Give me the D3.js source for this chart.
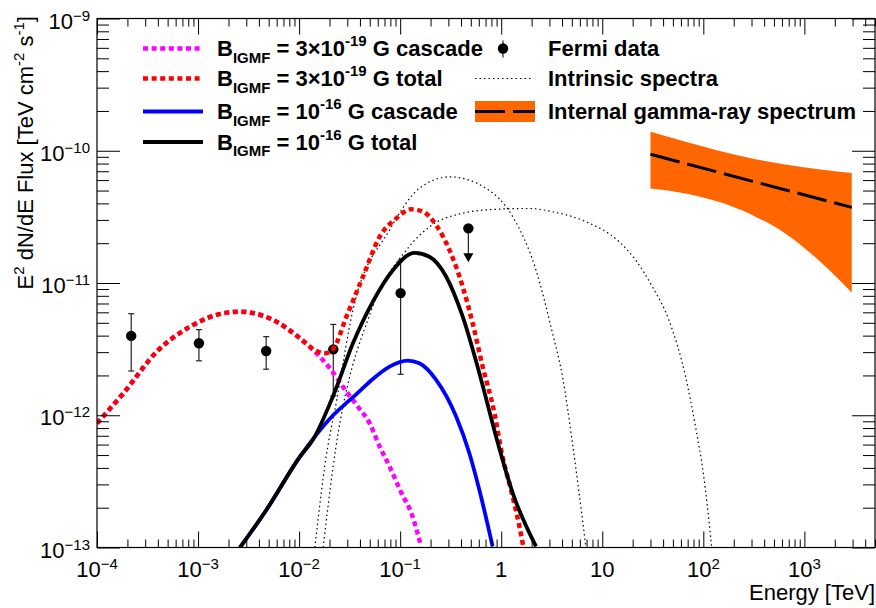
<!DOCTYPE html>
<html>
<head>
<meta charset="utf-8">
<script src="https://cdn.jsdelivr.net/npm/d3@7"></script>
<style>
  body { margin: 0; background: #fff; }
  svg { display: block; font-family: "Liberation Sans", Arial, Helvetica, sans-serif; }
  text { white-space: pre; }
</style>
</head>
<body>
<svg id="chart" width="876" height="608"></svg>
<script>
'use strict'

// E [TeV], E^2 dN/dE [TeV cm^-2 s^-1]
const cascadeWeak = [
  [1e-4, 8.7e-13], [1.83e-4, 1.47e-12], [3.91e-4, 3.03e-12], [8.34e-4, 4.68e-12],
  [1.78e-3, 5.90e-12], [2.6e-3, 6.07e-12], [5.54e-3, 5.25e-12], [0.0102, 3.82e-12],
  [0.0143, 3.03e-12], [0.0201, 2.27e-12], [0.0294, 1.51e-12], [0.0382, 1.16e-12],
  [0.0499, 8.7e-13], [0.0627, 5.8e-13], [0.0785, 4.1e-13], [0.103, 2.58e-13],
  [0.129, 1.82e-13], [0.161, 1.02e-13]
]
const totalWeak = [
  [1e-4, 8.7e-13], [1.83e-4, 1.47e-12], [3.91e-4, 3.03e-12], [8.34e-4, 4.68e-12],
  [1.78e-3, 5.90e-12], [2.6e-3, 6.07e-12], [5.54e-3, 5.25e-12], [0.0102, 3.82e-12],
  [0.0143, 3.1e-12], [0.0179, 2.94e-12], [0.0217, 3.17e-12], [0.0294, 5.56e-12],
  [0.0429, 1.12e-11], [0.0627, 2.24e-11], [0.0915, 3.08e-11], [0.129, 3.61e-11],
  [0.168, 3.46e-11], [0.227, 2.74e-11], [0.308, 1.77e-11], [0.416, 9.37e-12],
  [0.522, 4.95e-12], [0.655, 2.33e-12], [0.857, 1.04e-12], [1.03, 4.87e-13],
  [1.25, 2.73e-13], [1.63, 1.08e-13], [1.7, 0.9e-13]
]
const cascadeStrong = [
  [2.6e-3, 1e-13], [4.76e-3, 1.93e-13], [0.0102, 4.86e-13], [0.0137, 6.6e-13],
  [0.0217, 1.0e-12], [0.0316, 1.3e-12], [0.0397, 1.52e-12], [0.0537, 1.88e-12],
  [0.0785, 2.33e-12], [0.119, 2.59e-12], [0.155, 2.47e-12], [0.227, 1.85e-12],
  [0.358, 9.77e-13], [0.484, 5.16e-13], [0.608, 2.72e-13], [0.822, 1.02e-13]
]
const totalStrong = [
  [2.6e-3, 1e-13], [4.76e-3, 1.93e-13], [0.0102, 4.86e-13], [0.0137, 6.52e-13],
  [0.0217, 1.40e-12], [0.0341, 3.50e-12], [0.0537, 7.23e-12], [0.0847, 1.25e-11],
  [0.139, 1.69e-11], [0.195, 1.58e-11], [0.285, 1.12e-11], [0.416, 5.56e-12],
  [0.608, 2.08e-12], [0.889, 6.9e-13], [1.30, 2.58e-13], [2.21, 1.02e-13]
]
const intrinsicNarrow = [
  [0.0143, 1e-13], [0.0154, 1.62e-13], [0.0179, 4.09e-13], [0.0236, 1.31e-12],
  [0.0341, 6.25e-12], [0.0785, 2.51e-11], [0.155, 5.20e-11], [0.308, 6.35e-11],
  [0.708, 5.20e-11], [1.30, 3.17e-11], [2.21, 1.25e-11], [3.22, 4.17e-12],
  [4.04, 1.96e-12], [5.07, 6.15e-13], [5.90, 2.58e-13], [6.87, 1.02e-13]
]
const intrinsicBroad = [
  [0.0173, 1e-13], [0.0217, 4.09e-13], [0.0519, 6.25e-12], [0.115, 1.77e-11],
  [0.195, 2.66e-11], [0.416, 3.37e-11], [0.889, 3.61e-11], [1.89, 3.66e-11],
  [3.22, 3.46e-11], [6.87, 2.91e-11], [14.7, 2.05e-11], [21.4, 1.49e-11],
  [31.3, 9.37e-12], [45.6, 5.25e-12], [66.7, 1.96e-12], [83.7, 8.2e-13],
  [101, 3.44e-13], [118, 1.21e-13], [121, 1e-13]
]

const fermiE = [2.18e-4, 1.02e-3, 4.72e-3, 0.0218, 0.101]
const fermiF = [3.98e-12, 3.50e-12, 3.06e-12, 3.15e-12, 8.39e-12]
const fermiHi = [5.86e-12, 4.44e-12, 3.93e-12, 4.86e-12, 1.49e-11]
const fermiLo = [2.16e-12, 2.58e-12, 2.23e-12, 1.40e-12, 2.04e-12]
const limitE = [0.473]
const limitF = [2.59e-11]

const bandE = [30, 66.7, 142, 303, 647, 1380, 2944]
const bandHi = [1.39e-10, 1.17e-10, 1.0e-10, 8.75e-11, 7.88e-11, 7.26e-11, 6.8e-11]
const bandLo = [5.19e-11, 4.76e-11, 4.11e-11, 3.27e-11, 2.37e-11, 1.49e-11, 8.45e-12]
const powerLawE = [30, 2944]
const powerLawF = [9.4e-11, 3.73e-11]

const xMajor = [1e-4, 1e-3, 1e-2, 1e-1, 1, 10, 100, 1000]
const xExp = [-4, -3, -2, -1, 0, 1, 2, 3]
const yMajor = [1e-13, 1e-12, 1e-11, 1e-10, 1e-9]
const yExp = [-13, -12, -11, -10, -9]

const svg = d3.select('#chart')
const frameL = 97
const frameR = 875
const frameT = 18.5
const frameB = 547.5
const font = 22
const small = 15

const x = d3.scaleLog().domain([1e-4, 5e3]).range([frameL, frameR])
const y = d3.scaleLog().domain([1e-13, 1e-9]).range([frameB, frameT])

svg.append('clipPath').attr('id', 'plot')
  .append('rect')
  .attr('x', frameL).attr('y', frameT)
  .attr('width', frameR - frameL).attr('height', frameB - frameT)

const plot = svg.append('g').attr('clip-path', 'url(#plot)')

// text with sub/superscripts: parts = [[str, 'sup'|'sub'|undefined], ...]
function rich (sel, parts, up, down) {
  let shift = 0
  parts.forEach(function (p) {
    const target = p[1] === 'sup' ? -up : (p[1] === 'sub' ? down : 0)
    sel.append('tspan')
      .attr('dy', target - shift)
      .attr('font-size', p[1] ? small : font)
      .text(p[0])
    shift = target
  })
  return sel
}

// orange band + dashed power law
plot.append('path')
  .datum(bandE.map(function (e, i) { return [e, bandHi[i], bandLo[i]] }))
  .attr('fill', '#ff6600')
  .attr('d', d3.area()
    .x(function (d) { return x(d[0]) })
    .y0(function (d) { return y(d[2]) })
    .y1(function (d) { return y(d[1]) })
    .curve(d3.curveMonotoneX))

plot.append('path')
  .datum(powerLawE.map(function (e, i) { return [e, powerLawF[i]] }))
  .attr('fill', 'none')
  .attr('stroke', '#000')
  .attr('stroke-width', 3)
  .attr('stroke-dasharray', '30,8')
  .attr('d', d3.line().x(function (d) { return x(d[0]) }).y(function (d) { return y(d[1]) }))

// Fermi points
const pts = fermiE.map(function (e, i) {
  return { e: e, f: fermiF[i], hi: fermiHi[i], lo: fermiLo[i] }
})
const pg = plot.append('g').attr('stroke', '#222').attr('stroke-width', 1.2)
pts.forEach(function (d) {
  const cx = x(d.e)
  pg.append('line').attr('x1', cx).attr('x2', cx).attr('y1', y(d.hi)).attr('y2', y(d.lo))
  pg.append('line').attr('x1', cx - 3).attr('x2', cx + 3).attr('y1', y(d.hi)).attr('y2', y(d.hi))
  pg.append('line').attr('x1', cx - 3).attr('x2', cx + 3).attr('y1', y(d.lo)).attr('y2', y(d.lo))
})
plot.append('g').selectAll('circle').data(pts).enter()
  .append('circle')
  .attr('cx', function (d) { return x(d.e) })
  .attr('cy', function (d) { return y(d.f) })
  .attr('r', 5.2)
  .attr('fill', '#000')

limitE.forEach(function (e, i) {
  const cx = x(e)
  const cy = y(limitF[i])
  plot.append('line').attr('x1', cx).attr('x2', cx).attr('y1', cy).attr('y2', cy + 26)
    .attr('stroke', '#222').attr('stroke-width', 1.2)
  plot.append('path')
    .attr('d', `M${cx - 5},${cy + 25}L${cx + 5},${cy + 25}L${cx},${cy + 34}Z`)
    .attr('fill', '#000')
  plot.append('circle').attr('cx', cx).attr('cy', cy).attr('r', 5.2).attr('fill', '#000')
})

// model curves
const smooth = d3.line()
  .x(function (d) { return x(d[0]) })
  .y(function (d) { return y(d[1]) })
  .curve(d3.curveMonotoneX)

const curves = [
  { data: intrinsicNarrow, color: '#000', width: 1.2, dash: '1.5,3' },
  { data: intrinsicBroad, color: '#000', width: 1.2, dash: '1.5,3' },
  { data: cascadeWeak, color: '#ff00ff', width: 4.5, dash: '5,3.6' },
  { data: totalWeak, color: '#ff0000', width: 4.5, dash: '5,3.6' },
  { data: cascadeStrong, color: '#0000ff', width: 3.8, dash: null },
  { data: totalStrong, color: '#000', width: 3.8, dash: null }
]
curves.forEach(function (c) {
  plot.append('path')
    .datum(c.data)
    .attr('fill', 'none')
    .attr('stroke', c.color)
    .attr('stroke-width', c.width)
    .attr('stroke-dasharray', c.dash)
    .attr('d', smooth)
})

// axes, ROOT style: ticks inside, on all four sides
const xMinor = x.ticks().filter(function (v) { return xMajor.indexOf(v) < 0 })
const yMinor = y.ticks().filter(function (v) { return yMajor.indexOf(v) < 0 })

function ticks (gen, tr, vals, size) {
  const g = svg.append('g')
    .attr('transform', tr)
    .call(gen.tickValues(vals).tickSize(size).tickSizeOuter(0).tickFormat(''))
  g.select('.domain').remove()
  g.selectAll('line').attr('stroke-width', 1)
}
ticks(d3.axisBottom(x), `translate(0,${frameB})`, xMajor, -16)
ticks(d3.axisBottom(x), `translate(0,${frameB})`, xMinor, -8)
ticks(d3.axisTop(x), `translate(0,${frameT})`, xMajor, -16)
ticks(d3.axisTop(x), `translate(0,${frameT})`, xMinor, -8)
ticks(d3.axisLeft(y), `translate(${frameL},0)`, yMajor, -23)
ticks(d3.axisLeft(y), `translate(${frameL},0)`, yMinor, -12)
ticks(d3.axisRight(y), `translate(${frameR},0)`, yMajor, -23)
ticks(d3.axisRight(y), `translate(${frameR},0)`, yMinor, -12)

svg.append('rect')
  .attr('x', frameL).attr('y', frameT)
  .attr('width', frameR - frameL).attr('height', frameB - frameT)
  .attr('fill', 'none').attr('stroke', '#000').attr('stroke-width', 1.2)

function powParts (n) {
  if (n === 0) return [['1']]
  if (n === 1) return [['10']]
  return [['10'], [(n < 0 ? '\u2212' : '') + Math.abs(n), 'sup']]
}

xMajor.forEach(function (v, i) {
  rich(svg.append('text')
    .attr('x', x(v)).attr('y', 577)
    .attr('text-anchor', 'middle')
    .attr('font-size', font), powParts(xExp[i]), 8, 0)
})
yMajor.forEach(function (v, i) {
  rich(svg.append('text')
    .attr('x', 90).attr('y', y(v) + 10)
    .attr('text-anchor', 'end')
    .attr('font-size', font), powParts(yExp[i]), 8, 0)
})

svg.append('text')
  .attr('x', frameR).attr('y', 600)
  .attr('text-anchor', 'end')
  .attr('font-size', font)
  .text('Energy [TeV]')

rich(svg.append('text')
  .attr('transform', 'translate(33,16) rotate(-90)')
  .attr('text-anchor', 'end')
  .attr('font-size', font),
[['E'], ['2', 'sup'], [' dN/dE Flux [TeV cm'], ['-2', 'sup'], [' s'], ['-1', 'sup'], [']']], 9, 0)

// legend
const rows = [48.5, 78.5, 111.5, 142]
const leftLabels = [
  [['B'], ['IGMF', 'sub'], [' = 3\u00d710'], ['-19', 'sup'], [' G cascade']],
  [['B'], ['IGMF', 'sub'], [' = 3\u00d710'], ['-19', 'sup'], [' G total']],
  [['B'], ['IGMF', 'sub'], [' = 10'], ['-16', 'sup'], [' G cascade']],
  [['B'], ['IGMF', 'sub'], [' = 10'], ['-16', 'sup'], [' G total']]
]
const leg = svg.append('g')
curves.slice(2).forEach(function (c, i) {
  leg.append('line')
    .attr('x1', 143).attr('x2', 203)
    .attr('y1', rows[i]).attr('y2', rows[i])
    .attr('stroke', c.color)
    .attr('stroke-width', c.width)
    .attr('stroke-dasharray', c.dash)
  rich(leg.append('text')
    .attr('x', 217).attr('y', rows[i] + 7.5)
    .attr('font-size', font)
    .attr('font-weight', 'bold'), leftLabels[i], 10, 6.5)
})

const rightLabels = ['Fermi data', 'Intrinsic spectra', 'Internal gamma-ray spectrum']
leg.append('line')
  .attr('x1', 503).attr('x2', 503).attr('y1', rows[0] - 8).attr('y2', rows[0] + 9)
  .attr('stroke', '#222').attr('stroke-width', 1.2)
leg.append('circle').attr('cx', 503).attr('cy', rows[0]).attr('r', 5.2).attr('fill', '#000')
leg.append('line')
  .attr('x1', 475).attr('x2', 533).attr('y1', rows[1]).attr('y2', rows[1])
  .attr('stroke', '#000').attr('stroke-width', 1.2).attr('stroke-dasharray', '1.5,3')
leg.append('rect')
  .attr('x', 475).attr('y', rows[2] - 10.5).attr('width', 60).attr('height', 21)
  .attr('fill', '#ff6600')
leg.append('line')
  .attr('x1', 475).attr('x2', 535).attr('y1', rows[2]).attr('y2', rows[2])
  .attr('stroke', '#000').attr('stroke-width', 3).attr('stroke-dasharray', '30,8')
rightLabels.forEach(function (t, i) {
  leg.append('text')
    .attr('x', 548).attr('y', rows[i] + 7.5)
    .attr('font-size', font)
    .attr('font-weight', 'bold')
    .text(t)
})
</script>
</body>
</html>
